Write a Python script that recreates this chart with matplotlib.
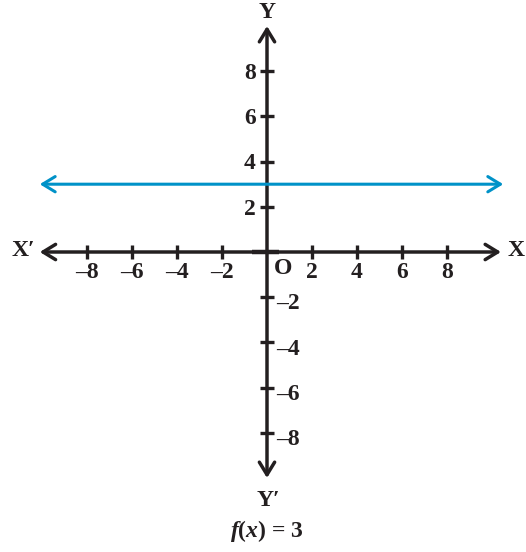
import numpy as np
from matplotlib import pyplot as plt

plt.rcParams['mathtext.fontset'] = 'custom'
plt.rcParams['mathtext.rm'] = 'Liberation Serif:bold'
plt.rcParams['mathtext.bf'] = 'Liberation Serif:bold'
plt.rcParams['mathtext.it'] = 'Liberation Serif:bold:italic'

# data
x_ticks = [-8, -6, -4, -2, 2, 4, 6, 8]
y_ticks = [-8, -6, -4, -2, 2, 4, 6, 8]
f_value = 3
line_x = [-10.1, 10.5]
x_axis_ends = [-10.1, 10.4]
y_axis_ends = [-10.0, 10.0]

fig = plt.figure(figsize=(5.26, 5.52), dpi=100)
ax = fig.add_axes([0, 0, 1, 1])
ax.set_xlim(-267 / 22.5, (526 - 267) / 22.5)
ax.set_ylim(-(552 - 252) / 22.6, 252 / 22.6)
ax.axis('off')

font = dict(family='Liberation Serif', weight='bold', size=17, color='#231f20')
ink = '#231f20'
blue = '#0092c8'

def arrow(p0, p1, color, lw):
    ax.annotate('', xy=p1, xytext=p0,
                arrowprops=dict(arrowstyle='<->, head_length=0.9, head_width=0.55',
                                color=color, lw=lw, shrinkA=0, shrinkB=0))

# axes
arrow((x_axis_ends[0], 0), (x_axis_ends[1], 0), ink, 2.5)
arrow((0, y_axis_ends[0]), (0, y_axis_ends[1]), ink, 2.5)

# constant function
y_line = [f_value for _ in line_x]
arrow((line_x[0], y_line[0]), (line_x[1], y_line[1]), blue, 2.2)

# ticks
for t in x_ticks:
    ax.plot([t, t], [-0.3, 0.3], color=ink, lw=2.4, solid_capstyle='butt')
    ax.text(t, -0.45, str(t).replace('-', '\u2013'), ha='center', va='top', **font)
ax.plot([-0.65, 0.55], [0, 0], color=ink, lw=3.2, solid_capstyle='butt')
for t in y_ticks:
    ax.plot([-0.3, 0.3], [t, t], color=ink, lw=2.4, solid_capstyle='butt')
    if t > 0:
        ax.text(-0.5, t - 0.1, str(t), ha='right', va='center', **font)
    else:
        ax.text(0.4, t - 0.3, str(t).replace('-', '\u2013'), ha='left', va='center', **font)

# labels
ax.text(0.3, -0.25, 'O', ha='left', va='top', **font)
ax.text(-10.3, 0.05, "X\u2032", ha='right', va='center', **font)
ax.text(10.7, 0.05, 'X', ha='left', va='center', **font)
ax.text(0, 10.6, 'Y', ha='center', va='center', **font)
ax.text(0.05, -11.0, "Y\u2032", ha='center', va='center', **font)
ax.text(0, -12.35, r'$\mathit{f}\mathrm{(}\mathit{x}\mathrm{)}$ = 3',
        ha='center', va='center', **font)

fig.savefig('out.png', dpi=100)
